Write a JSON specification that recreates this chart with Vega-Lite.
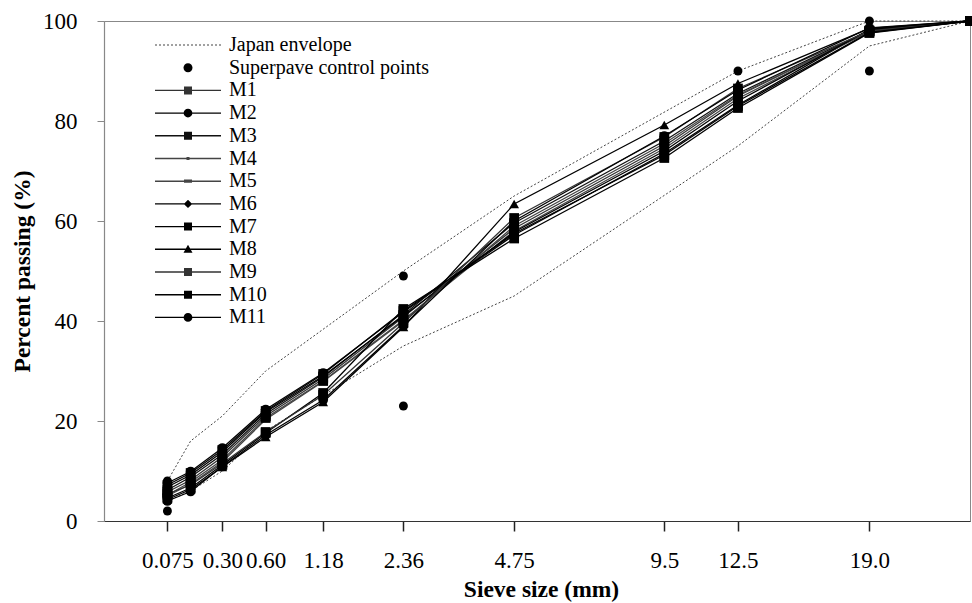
{
  "$schema": "https://vega.github.io/schema/vega-lite/v6.json",
  "autosize": {"type": "none"},
  "width": 866,
  "height": 500,
  "padding": {"left": 104, "top": 21, "right": 2, "bottom": 82},
  "background": "white",
  "config": {
    "view": {"stroke": "#888", "strokeWidth": 1},
    "axis": {"grid": false, "labelFont": "Liberation Serif", "titleFont": "Liberation Serif", "labelColor": "#000", "titleColor": "#000"},
    "legend": {"labelFont": "Liberation Serif", "labelFontSize": 20, "labelColor": "#000"}
  },
  "datasets": {
    "env": [
      {"series": "Japan envelope", "bound": "upper", "s": 0.075, "p": 8},
      {"series": "Japan envelope", "bound": "upper", "s": 0.15, "p": 16},
      {"series": "Japan envelope", "bound": "upper", "s": 0.3, "p": 21},
      {"series": "Japan envelope", "bound": "upper", "s": 0.6, "p": 30},
      {"series": "Japan envelope", "bound": "upper", "s": 2.36, "p": 50},
      {"series": "Japan envelope", "bound": "upper", "s": 4.75, "p": 65},
      {"series": "Japan envelope", "bound": "upper", "s": 12.5, "p": 90},
      {"series": "Japan envelope", "bound": "upper", "s": 19, "p": 100},
      {"series": "Japan envelope", "bound": "upper", "s": 25, "p": 100},
      {"series": "Japan envelope", "bound": "lower", "s": 0.075, "p": 4},
      {"series": "Japan envelope", "bound": "lower", "s": 0.15, "p": 6},
      {"series": "Japan envelope", "bound": "lower", "s": 0.3, "p": 10},
      {"series": "Japan envelope", "bound": "lower", "s": 0.6, "p": 18},
      {"series": "Japan envelope", "bound": "lower", "s": 2.36, "p": 35},
      {"series": "Japan envelope", "bound": "lower", "s": 4.75, "p": 45},
      {"series": "Japan envelope", "bound": "lower", "s": 12.5, "p": 75},
      {"series": "Japan envelope", "bound": "lower", "s": 19, "p": 95},
      {"series": "Japan envelope", "bound": "lower", "s": 25, "p": 100}
    ],
    "sp": [
      {"series": "Superpave control points", "s": 0.075, "p": 2},
      {"series": "Superpave control points", "s": 0.075, "p": 8},
      {"series": "Superpave control points", "s": 2.36, "p": 23},
      {"series": "Superpave control points", "s": 2.36, "p": 49},
      {"series": "Superpave control points", "s": 12.5, "p": 90},
      {"series": "Superpave control points", "s": 19, "p": 90},
      {"series": "Superpave control points", "s": 19, "p": 100},
      {"series": "Superpave control points", "s": 25, "p": 100}
    ],
    "mix": [
      {"series": "M1", "s": 0.075, "p": 5.8}, {"series": "M1", "s": 0.15, "p": 8.2}, {"series": "M1", "s": 0.3, "p": 12.8}, {"series": "M1", "s": 0.6, "p": 21.0}, {"series": "M1", "s": 1.18, "p": 28.4}, {"series": "M1", "s": 2.36, "p": 40.8}, {"series": "M1", "s": 4.75, "p": 58.5}, {"series": "M1", "s": 9.5, "p": 75.0}, {"series": "M1", "s": 12.5, "p": 85.0}, {"series": "M1", "s": 19, "p": 98.0}, {"series": "M1", "s": 25, "p": 100},
      {"series": "M2", "s": 0.075, "p": 7.6}, {"series": "M2", "s": 0.15, "p": 9.9}, {"series": "M2", "s": 0.3, "p": 14.6}, {"series": "M2", "s": 0.6, "p": 22.3}, {"series": "M2", "s": 1.18, "p": 29.6}, {"series": "M2", "s": 2.36, "p": 41.8}, {"series": "M2", "s": 4.75, "p": 57.2}, {"series": "M2", "s": 9.5, "p": 73.5}, {"series": "M2", "s": 12.5, "p": 83.2}, {"series": "M2", "s": 19, "p": 98.3}, {"series": "M2", "s": 25, "p": 100},
      {"series": "M3", "s": 0.075, "p": 6.2}, {"series": "M3", "s": 0.15, "p": 8.8}, {"series": "M3", "s": 0.3, "p": 13.3}, {"series": "M3", "s": 0.6, "p": 21.4}, {"series": "M3", "s": 1.18, "p": 28.8}, {"series": "M3", "s": 2.36, "p": 41.2}, {"series": "M3", "s": 4.75, "p": 59.6}, {"series": "M3", "s": 9.5, "p": 76.0}, {"series": "M3", "s": 12.5, "p": 85.5}, {"series": "M3", "s": 19, "p": 98.1}, {"series": "M3", "s": 25, "p": 100},
      {"series": "M4", "s": 0.075, "p": 5.2}, {"series": "M4", "s": 0.15, "p": 7.8}, {"series": "M4", "s": 0.3, "p": 12.2}, {"series": "M4", "s": 0.6, "p": 20.6}, {"series": "M4", "s": 1.18, "p": 28.0}, {"series": "M4", "s": 2.36, "p": 40.2}, {"series": "M4", "s": 4.75, "p": 58.0}, {"series": "M4", "s": 9.5, "p": 74.5}, {"series": "M4", "s": 12.5, "p": 84.5}, {"series": "M4", "s": 19, "p": 97.9}, {"series": "M4", "s": 25, "p": 100},
      {"series": "M5", "s": 0.075, "p": 5.0}, {"series": "M5", "s": 0.15, "p": 7.4}, {"series": "M5", "s": 0.3, "p": 11.8}, {"series": "M5", "s": 0.6, "p": 20.3}, {"series": "M5", "s": 1.18, "p": 27.9}, {"series": "M5", "s": 2.36, "p": 40.0}, {"series": "M5", "s": 4.75, "p": 59.0}, {"series": "M5", "s": 9.5, "p": 75.5}, {"series": "M5", "s": 12.5, "p": 85.2}, {"series": "M5", "s": 19, "p": 97.8}, {"series": "M5", "s": 25, "p": 100},
      {"series": "M6", "s": 0.075, "p": 6.8}, {"series": "M6", "s": 0.15, "p": 9.2}, {"series": "M6", "s": 0.3, "p": 13.8}, {"series": "M6", "s": 0.6, "p": 21.8}, {"series": "M6", "s": 1.18, "p": 29.0}, {"series": "M6", "s": 2.36, "p": 41.0}, {"series": "M6", "s": 4.75, "p": 57.8}, {"series": "M6", "s": 9.5, "p": 74.0}, {"series": "M6", "s": 12.5, "p": 84.0}, {"series": "M6", "s": 19, "p": 98.2}, {"series": "M6", "s": 25, "p": 100},
      {"series": "M7", "s": 0.075, "p": 4.6}, {"series": "M7", "s": 0.15, "p": 6.6}, {"series": "M7", "s": 0.3, "p": 11.2}, {"series": "M7", "s": 0.6, "p": 17.6}, {"series": "M7", "s": 1.18, "p": 25.6}, {"series": "M7", "s": 2.36, "p": 42.4}, {"series": "M7", "s": 4.75, "p": 56.5}, {"series": "M7", "s": 9.5, "p": 72.6}, {"series": "M7", "s": 12.5, "p": 82.6}, {"series": "M7", "s": 19, "p": 97.6}, {"series": "M7", "s": 25, "p": 100},
      {"series": "M8", "s": 0.075, "p": 4.3}, {"series": "M8", "s": 0.15, "p": 6.3}, {"series": "M8", "s": 0.3, "p": 10.8}, {"series": "M8", "s": 0.6, "p": 16.8}, {"series": "M8", "s": 1.18, "p": 23.8}, {"series": "M8", "s": 2.36, "p": 38.8}, {"series": "M8", "s": 4.75, "p": 63.4}, {"series": "M8", "s": 9.5, "p": 79.2}, {"series": "M8", "s": 12.5, "p": 87.5}, {"series": "M8", "s": 19, "p": 98.5}, {"series": "M8", "s": 25, "p": 100},
      {"series": "M9", "s": 0.075, "p": 5.4}, {"series": "M9", "s": 0.15, "p": 7.2}, {"series": "M9", "s": 0.3, "p": 11.5}, {"series": "M9", "s": 0.6, "p": 17.8}, {"series": "M9", "s": 1.18, "p": 25.2}, {"series": "M9", "s": 2.36, "p": 39.6}, {"series": "M9", "s": 4.75, "p": 60.6}, {"series": "M9", "s": 9.5, "p": 76.8}, {"series": "M9", "s": 12.5, "p": 86.5}, {"series": "M9", "s": 19, "p": 98.0}, {"series": "M9", "s": 25, "p": 100},
      {"series": "M10", "s": 0.075, "p": 7.2}, {"series": "M10", "s": 0.15, "p": 9.6}, {"series": "M10", "s": 0.3, "p": 14.2}, {"series": "M10", "s": 0.6, "p": 22.0}, {"series": "M10", "s": 1.18, "p": 29.4}, {"series": "M10", "s": 2.36, "p": 42.0}, {"series": "M10", "s": 4.75, "p": 57.5}, {"series": "M10", "s": 9.5, "p": 73.2}, {"series": "M10", "s": 12.5, "p": 83.0}, {"series": "M10", "s": 19, "p": 97.7}, {"series": "M10", "s": 25, "p": 100},
      {"series": "M11", "s": 0.075, "p": 4.0}, {"series": "M11", "s": 0.15, "p": 5.9}, {"series": "M11", "s": 0.3, "p": 10.9}, {"series": "M11", "s": 0.6, "p": 17.2}, {"series": "M11", "s": 1.18, "p": 24.2}, {"series": "M11", "s": 2.36, "p": 39.0}, {"series": "M11", "s": 4.75, "p": 60.0}, {"series": "M11", "s": 9.5, "p": 77.0}, {"series": "M11", "s": 12.5, "p": 86.2}, {"series": "M11", "s": 19, "p": 98.6}, {"series": "M11", "s": 25, "p": 100}
    ]
  },
  "encoding": {
    "x": {
      "field": "s", "type": "quantitative",
      "scale": {"type": "pow", "exponent": 0.45, "domain": [0, 25], "nice": false, "zero": false},
      "axis": {
        "title": "Sieve size (mm)",
        "values": [0.075, 0.3, 0.6, 1.18, 2.36, 4.75, 9.5, 12.5, 19],
        "labelExpr": "datum.value == 0.075 ? '0.075' : datum.value == 0.3 ? '0.30' : datum.value == 0.6 ? '0.60' : datum.value == 19 ? '19.0' : format(datum.value, '~g')",
        "labelFontSize": 23, "labelBaseline": "alphabetic", "labelPadding": 36, "labelFlush": false, "labelOverlap": false,
        "tickSize": 10, "tickWidth": 1.5, "tickColor": "#222",
        "domainColor": "#333", "domainWidth": 1.2,
        "titleFontSize": 23.5, "titleFontWeight": "bold", "titleBaseline": "alphabetic", "titleY": 75, "titleX": 437, "titleAlign": "center"
      }
    },
    "y": {
      "field": "p", "type": "quantitative",
      "scale": {"domain": [0, 100], "nice": false},
      "axis": {
        "title": "Percent passing (%)",
        "values": [0, 20, 40, 60, 80, 100],
        "labelFontSize": 23, "labelPadding": 20, "labelBaseline": "middle",
        "tickSize": 7, "tickWidth": 1, "tickColor": "#888",
        "domainColor": "#888", "domainWidth": 1.2,
        "titleFontSize": 23.5, "titleFontWeight": "bold", "titleAngle": -90, "titleBaseline": "alphabetic", "titleAlign": "center", "titleX": -75, "titleY": 250
      }
    }
  },
  "layer": [
    {
      "data": {"name": "env"},
      "mark": {"type": "line", "color": "#444", "strokeWidth": 1, "strokeDash": [2, 2]},
      "encoding": {"detail": {"field": "bound"}}
    },
    {
      "data": {"name": "mix"},
      "mark": {"type": "line", "strokeWidth": 1.3},
      "encoding": {
        "detail": {"field": "series"},
        "color": {"field": "series", "type": "nominal", "legend": null,
          "scale": {"domain": ["M1","M2","M3","M4","M5","M6","M7","M8","M9","M10","M11"],
                    "range": ["#333","#000","#111","#444","#444","#000","#000","#000","#333","#000","#000"]}}
      }
    },
    {
      "data": {"name": "mix"},
      "mark": {"type": "point", "filled": true, "color": "#000", "opacity": 1},
      "encoding": {
        "shape": {"field": "series", "type": "nominal", "legend": null,
          "scale": {"domain": ["M1","M2","M3","M4","M5","M6","M7","M8","M9","M10","M11"],
                    "range": ["square","circle","square","square","M-1,-0.4H1V0.4H-1Z","diamond","square","triangle-up","square","square","circle"]}},
        "size": {"field": "series", "type": "nominal", "legend": null,
          "scale": {"domain": ["M1","M2","M3","M4","M5","M6","M7","M8","M9","M10","M11"],
                    "range": [95, 95, 95, 16, 95, 80, 95, 100, 95, 95, 95]}}
      }
    },
    {
      "data": {"name": "sp"},
      "mark": {"type": "point", "shape": "circle", "filled": true, "color": "#000", "size": 80, "opacity": 1}
    },
    {
      "data": {"name": "mix"},
      "mark": {"type": "point", "filled": true, "opacity": 0, "size": 400},
      "encoding": {
        "shape": {"field": "series", "type": "nominal",
          "scale": {"domain": ["Japan envelope","Superpave control points","M1","M2","M3","M4","M5","M6","M7","M8","M9","M10","M11"],
                    "range": [
                      "M-3.3,-0.05h0.2v0.1h-0.2Z M-2.9,-0.05h0.2v0.1h-0.2Z M-2.5,-0.05h0.2v0.1h-0.2Z M-2.1,-0.05h0.2v0.1h-0.2Z M-1.7,-0.05h0.2v0.1h-0.2Z M-1.3,-0.05h0.2v0.1h-0.2Z M-0.9,-0.05h0.2v0.1h-0.2Z M-0.5,-0.05h0.2v0.1h-0.2Z M-0.1,-0.05h0.2v0.1h-0.2Z M0.3,-0.05h0.2v0.1h-0.2Z M0.7,-0.05h0.2v0.1h-0.2Z M1.1,-0.05h0.2v0.1h-0.2Z M1.5,-0.05h0.2v0.1h-0.2Z M1.9,-0.05h0.2v0.1h-0.2Z M2.3,-0.05h0.2v0.1h-0.2Z M2.7,-0.05h0.2v0.1h-0.2Z M3.1,-0.05h0.2v0.1h-0.2Z",
                      "M-0.45,0A0.45,0.45 0 1,1 0.45,0A0.45,0.45 0 1,1 -0.45,0Z",
                      "M-3.3,-0.07H3.3V0.07H-3.3Z M-0.4,-0.4H0.4V0.4H-0.4Z",
                      "M-3.3,-0.07H3.3V0.07H-3.3Z M-0.44,0A0.44,0.44 0 1,1 0.44,0A0.44,0.44 0 1,1 -0.44,0Z",
                      "M-3.3,-0.07H3.3V0.07H-3.3Z M-0.4,-0.4H0.4V0.4H-0.4Z",
                      "M-3.3,-0.07H3.3V0.07H-3.3Z M-0.15,-0.15H0.15V0.15H-0.15Z",
                      "M-3.3,-0.07H3.3V0.07H-3.3Z M-0.4,-0.16H0.4V0.16H-0.4Z",
                      "M-3.3,-0.07H3.3V0.07H-3.3Z M0,-0.42L0.42,0L0,0.42L-0.42,0Z",
                      "M-3.3,-0.07H3.3V0.07H-3.3Z M-0.4,-0.4H0.4V0.4H-0.4Z",
                      "M-3.3,-0.07H3.3V0.07H-3.3Z M0,-0.45L0.45,0.35L-0.45,0.35Z",
                      "M-3.3,-0.07H3.3V0.07H-3.3Z M-0.4,-0.4H0.4V0.4H-0.4Z",
                      "M-3.3,-0.07H3.3V0.07H-3.3Z M-0.4,-0.4H0.4V0.4H-0.4Z",
                      "M-3.3,-0.07H3.3V0.07H-3.3Z M-0.44,0A0.44,0.44 0 1,1 0.44,0A0.44,0.44 0 1,1 -0.44,0Z"
                    ]},
          "legend": {"title": null, "orient": "none", "legendX": 74, "legendY": 14, "padding": 0, "symbolSize": 400, "symbolStrokeWidth": 0, "symbolOpacity": 1,
                     "labelFont": "Liberation Serif", "labelFontSize": 20, "labelColor": "#000", "labelOffset": 31, "rowPadding": 2.7, "labelLimit": 400}
        },
        "color": {"field": "series", "type": "nominal",
          "scale": {"domain": ["Japan envelope","Superpave control points","M1","M2","M3","M4","M5","M6","M7","M8","M9","M10","M11"],
                    "range": ["#444","#000","#333","#000","#111","#444","#444","#000","#000","#000","#333","#000","#000"]},
          "legend": {"title": null, "orient": "none", "legendX": 74, "legendY": 14, "padding": 0, "symbolSize": 400, "symbolStrokeWidth": 0, "symbolOpacity": 1,
                     "labelFont": "Liberation Serif", "labelFontSize": 20, "labelColor": "#000", "labelOffset": 31, "rowPadding": 2.7, "labelLimit": 400}
        }
      }
    }
  ],
  "resolve": {
    "scale": {"shape": "independent", "color": "independent", "size": "independent"},
    "legend": {"shape": "independent", "color": "independent", "size": "independent"}
  }
}
